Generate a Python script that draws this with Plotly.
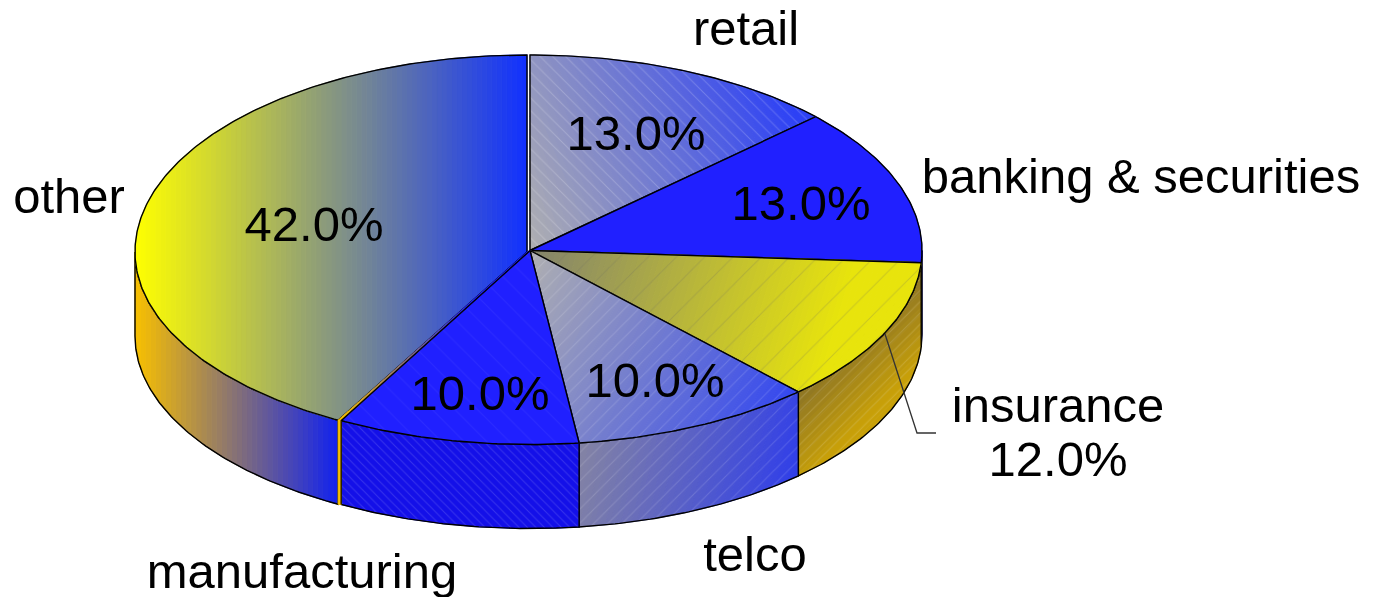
import math
import plotly.graph_objects as go

# Market share by industry, clockwise from twelve o'clock
categories = ["retail", "banking & securities", "insurance", "telco", "manufacturing", "other"]
shares = [13.0, 13.0, 12.0, 10.0, 10.0, 42.0]

WIDTH, HEIGHT = 1377, 597
FONT = "Liberation Sans"
FONT_SIZE = 49
DEPTH = 84.0
BAND = 5.0

# Ellipse of the main group and of the slightly pulled out "other" slice
MAIN = dict(cx=530.0, cy=250.5, rx=392.0, ry_top=195.5, ry_bot=194.0)
PULLED = dict(cx=527.0, cy=252.0, rx=392.0, ry_top=197.0, ry_bot=192.0)

BLUE = (32, 32, 255)
GRAY = (176, 176, 176)

# Per-slice styling: gradient = (colour0, colour1, dir_x, dir_y, t0, t1) measured from the apex,
# hatch = (pattern shape, colour, tile size)
TOP_STYLE = {
    "retail": dict(grad=(GRAY, (45, 65, 245), 1.0, -0.4, 0, 320), hatch=("\\", "rgba(255,255,255,0.4)", 9)),
    "banking & securities": dict(grad=(BLUE, BLUE, 1, 0, 0, 1), hatch=None),
    "insurance": dict(grad=((130, 130, 110), (232, 228, 12), 1.0, 0.3, 0, 330), hatch=("/", "rgba(110,110,90,0.5)", 20)),
    "telco": dict(grad=(GRAY, (50, 70, 240), 1.0, 0.5, 0, 340), hatch=("/", "rgba(255,255,255,0.3)", 10)),
    "manufacturing": dict(grad=(BLUE, BLUE, 1, 0, 0, 1), hatch=("\\", "rgba(255,255,255,0.1)", 16)),
    "other": dict(grad=((16, 48, 255), (255, 255, 0), -1.0, 0.0, 0, 392), hatch=None),
}
SIDE_STYLE = {
    "banking & securities": dict(grad=(BLUE, BLUE, 1, 0, 0, 1), hatch=None),
    "insurance": dict(grad=((145, 120, 35), (200, 160, 8), 1.0, 1.0, 420, 505), hatch=("/", "rgba(255,255,255,0.3)", 8)),
    "telco": dict(grad=((130, 130, 165), (45, 60, 235), 1.0, 0.25, 105, 330), hatch=("/", "rgba(255,255,255,0.28)", 10)),
    "manufacturing": dict(grad=((20, 16, 232), (20, 16, 232), 1, 0, 0, 1), hatch=("\\", "rgba(255,255,255,0.3)", 6)),
    "other": dict(grad=((16, 32, 240), (248, 192, 0), -1.0, 0.0, 188, 392), hatch=None),
}

percent_pos = {
    "retail": (636, 138), "banking & securities": (801, 208), "other": (314, 229),
    "manufacturing": (480, 398), "telco": (655, 385),
}
name_pos = {
    "retail": (746, 33), "banking & securities": (1141, 181), "other": (69, 201),
    "manufacturing": (302, 576), "telco": (755, 559), "insurance": (1058, 410),
}


def rim(e, deg):
    a = math.radians(deg)
    c = math.cos(a)
    ry = e["ry_top"] if c > 0 else e["ry_bot"]
    return e["cx"] + e["rx"] * math.sin(a), e["cy"] - ry * c


def arc(e, a0, a1):
    n = max(2, int(abs(a1 - a0) * 1.5))
    return [rim(e, a0 + (a1 - a0) * i / n) for i in range(n + 1)]


def clip(poly, nx, ny, limit, keep_above):
    """Sutherland-Hodgman clip of a polygon against one half-plane."""
    out = []
    for i, p in enumerate(poly):
        q = poly[(i + 1) % len(poly)]
        dp = nx * p[0] + ny * p[1] - limit
        dq = nx * q[0] + ny * q[1] - limit
        if not keep_above:
            dp, dq = -dp, -dq
        if dp >= 0:
            out.append(p)
        if (dp >= 0) != (dq >= 0):
            s = dp / (dp - dq)
            out.append((p[0] + (q[0] - p[0]) * s, p[1] + (q[1] - p[1]) * s))
    return out


def rgb(c):
    return "rgb(%d,%d,%d)" % tuple(round(v) for v in c)


fig = go.Figure()


def add_poly(poly, color, line_color=None):
    fig.add_trace(go.Scatter(
        x=[p[0] for p in poly] + [poly[0][0]], y=[p[1] for p in poly] + [poly[0][1]],
        mode="lines", fill="toself", fillcolor=color,
        line=dict(color=line_color or color, width=1), hoverinfo="skip", showlegend=False,
    ))


def add_gradient(poly, origin, grad):
    c0, c1, dx, dy, t0, t1 = grad
    if c0 == c1:
        add_poly(poly, rgb(c0))
        return
    norm = math.hypot(dx, dy)
    ts = [((p[0] - origin[0]) * dx + (p[1] - origin[1]) * dy) for p in poly]
    lo, hi = min(ts), max(ts)
    n = max(1, int((hi - lo) / norm / BAND))
    for i in range(n):
        a, b = lo + (hi - lo) * i / n, lo + (hi - lo) * (i + 1) / n
        base = dx * origin[0] + dy * origin[1]
        piece = clip(clip(poly, dx, dy, base + a, True), dx, dy, base + b, False)
        if len(piece) < 3:
            continue
        f = min(1.0, max(0.0, ((a + b) / 2 - t0) / (t1 - t0)))
        add_poly(piece, rgb([u + (v - u) * f for u, v in zip(c0, c1)]))


def add_hatch(poly, hatch):
    if not hatch:
        return
    fig.add_trace(go.Scatter(
        x=[p[0] for p in poly] + [poly[0][0]], y=[p[1] for p in poly] + [poly[0][1]],
        mode="lines", fill="toself", fillcolor="rgba(0,0,0,0)",
        fillpattern=dict(shape=hatch[0], fgcolor=hatch[1], bgcolor="rgba(0,0,0,0)",
                         size=hatch[2], solidity=1.0 / hatch[2]),
        line=dict(width=0), hoverinfo="skip", showlegend=False,
    ))


def add_outline(poly, color="#000000", width=1.4):
    fig.add_trace(go.Scatter(
        x=[p[0] for p in poly] + [poly[0][0]], y=[p[1] for p in poly] + [poly[0][1]],
        mode="lines", line=dict(color=color, width=width), hoverinfo="skip", showlegend=False,
    ))


# Slice angles from the shares
angles = []
start = 0.0
total = sum(shares)
for name, share in zip(categories, shares):
    end = start + 360.0 * share / total
    angles.append((name, start, end))
    start = end

tops, sides = [], []
for name, a0, a1 in angles:
    e = PULLED if name == "other" else MAIN
    apex = (e["cx"], e["cy"])
    tops.append((name, e, [apex] + arc(e, a0, a1)))
    s0, s1 = max(a0, 90.0), min(a1, 270.0)
    if s1 > s0:
        upper = arc(e, s0, s1)
        lower = [(x, y + DEPTH) for x, y in reversed(upper)]
        sides.append((name, e, upper + lower))

for name, e, poly in sides:
    st = SIDE_STYLE[name]
    add_gradient(poly, (e["cx"], e["cy"]), st["grad"])
    add_hatch(poly, st["hatch"])
    add_outline(poly)

for name, e, poly in tops:
    st = TOP_STYLE[name]
    add_gradient(poly, (e["cx"], e["cy"]), st["grad"])
    add_hatch(poly, st["hatch"])
    add_outline(poly)

# Cut face of the pulled out slice, visible through the gap beside manufacturing
other_a0 = angles[-1][1]
corner_o = rim(PULLED, other_a0)
corner_m = rim(MAIN, other_a0)
GOLD = (248, 192, 0)
add_gradient([(PULLED["cx"], PULLED["cy"]), corner_o, corner_m, (MAIN["cx"], MAIN["cy"])],
             (MAIN["cx"], MAIN["cy"]), (BLUE, GOLD, -1.0, 0.0, 60, 190))
strip = [corner_o, corner_m, (corner_m[0], corner_m[1] + DEPTH), (corner_o[0], corner_o[1] + DEPTH)]
add_poly(strip, rgb(GOLD))
fig.add_trace(go.Scatter(
    x=[MAIN["cx"], corner_m[0], corner_m[0]], y=[MAIN["cy"], corner_m[1], corner_m[1] + DEPTH],
    mode="lines", line=dict(color="#000000", width=1.2), hoverinfo="skip", showlegend=False,
))

# Leader line of the outside insurance label
fig.add_trace(go.Scatter(
    x=[885, 917, 936], y=[334, 433, 433], mode="lines",
    line=dict(color="#333333", width=1.3), hoverinfo="skip", showlegend=False,
))

# Category names and percentages
text_x, text_y, text_s = [], [], []
for name, share in zip(categories, shares):
    x, y = name_pos[name]
    text_x.append(x); text_y.append(y); text_s.append(name)
    if name == "insurance":
        text_x.append(x); text_y.append(y + 54); text_s.append(f"{share:.1f}%")
    else:
        px, py = percent_pos[name]
        text_x.append(px); text_y.append(py); text_s.append(f"{share:.1f}%")
fig.add_trace(go.Scatter(
    x=text_x, y=text_y, text=text_s, mode="text", textposition="middle center",
    textfont=dict(family=FONT, size=FONT_SIZE, color="#000000"),
    hoverinfo="skip", showlegend=False, cliponaxis=False,
))

fig.update_layout(
    width=WIDTH, height=HEIGHT, margin=dict(l=0, r=0, t=0, b=0),
    paper_bgcolor="white", plot_bgcolor="white",
    xaxis=dict(range=[0, WIDTH], visible=False, fixedrange=True),
    yaxis=dict(range=[HEIGHT, 0], visible=False, fixedrange=True),
)
fig.write_html("out.html", config=dict(displayModeBar=False))
